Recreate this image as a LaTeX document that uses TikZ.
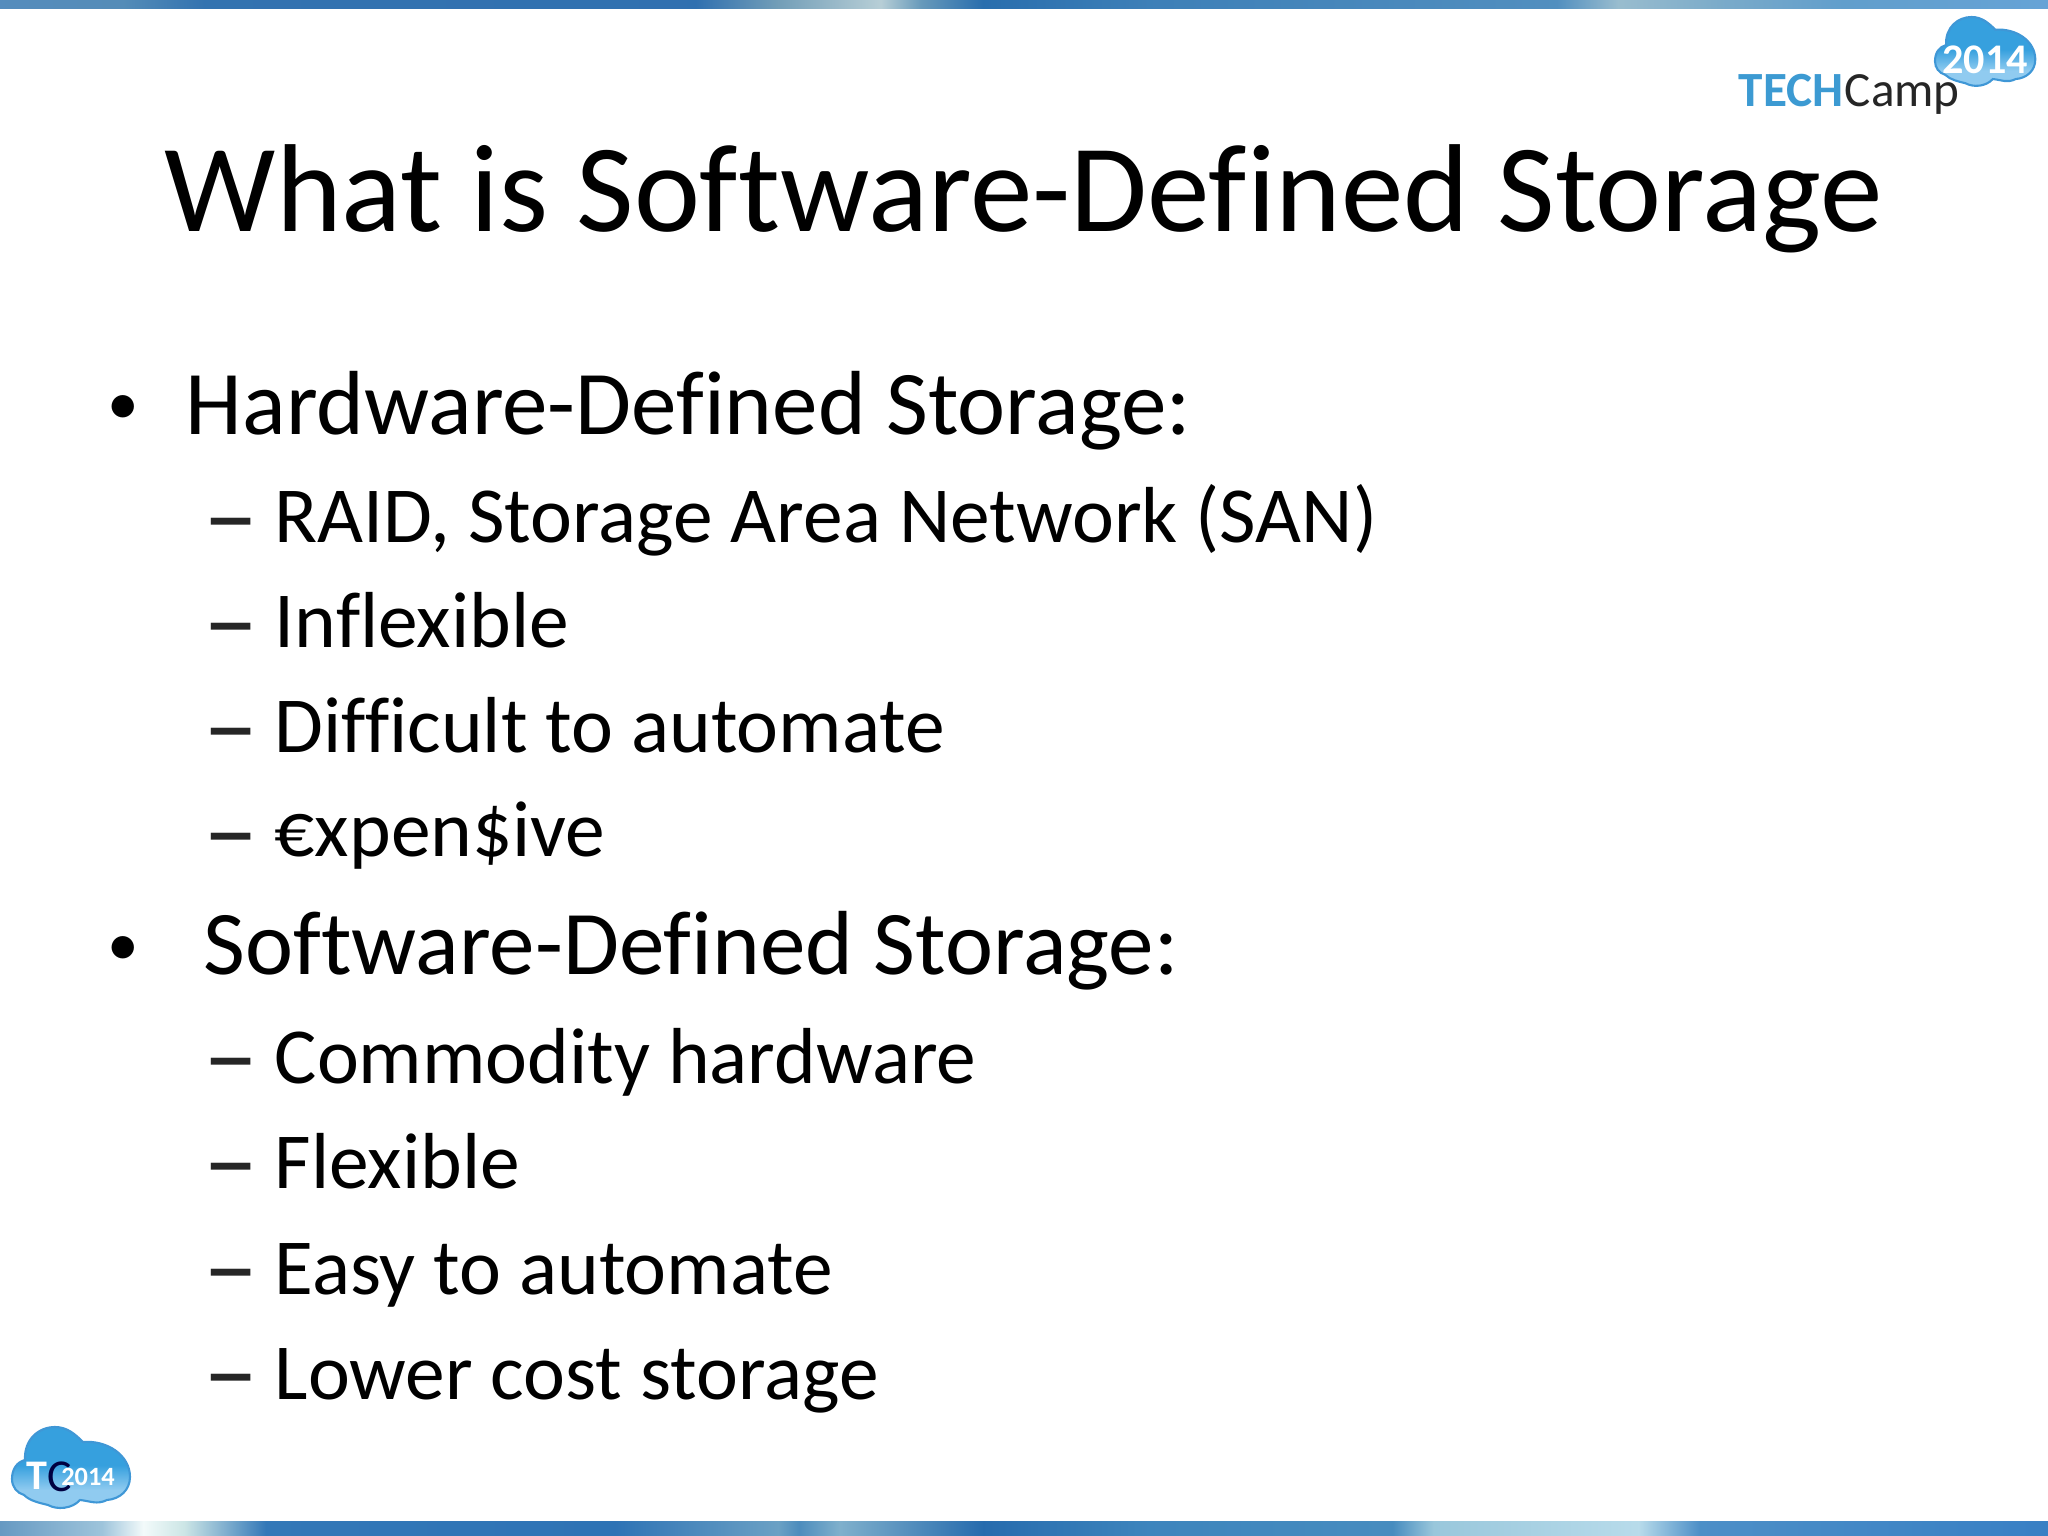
\documentclass[tikz,border=0pt]{standalone}
\usepackage{fontspec}
\setmainfont[RawFeature={-liga;-clig}]{Carlito}
\usepackage{xcolor}
\usetikzlibrary{positioning}

\definecolor{cloudtop}{HTML}{36A0DE}
\definecolor{cloudlow}{HTML}{90CBF0}
\definecolor{cloudline}{HTML}{3F97D6}
\definecolor{techblue}{HTML}{3C9AD2}

\pgfdeclarehorizontalshading{topband}{100bp}{rgb(0bp)=(0.33,0.55,0.74);
	rgb(25bp)=(0.33,0.55,0.74); rgb(28bp)=(0.33,0.55,0.72); rgb(30bp)=(0.20,0.45,0.69);
	rgb(42bp)=(0.19,0.44,0.69); rgb(44bp)=(0.45,0.62,0.72); rgb(46.5bp)=(0.72,0.81,0.84);
	rgb(47.5bp)=(0.40,0.60,0.73); rgb(49bp)=(0.16,0.43,0.68); rgb(53bp)=(0.24,0.50,0.72);
	rgb(63bp)=(0.32,0.56,0.75); rgb(64.5bp)=(0.60,0.74,0.81); rgb(67bp)=(0.48,0.67,0.79);
	rgb(70bp)=(0.38,0.62,0.80); rgb(75bp)=(0.40,0.64,0.84); rgb(100bp)=(0.40,0.64,0.84)}
\pgfdeclarehorizontalshading{lowband}{100bp}{rgb(0bp)=(0.40,0.60,0.76);
	rgb(25bp)=(0.40,0.60,0.76); rgb(27.5bp)=(0.62,0.77,0.86); rgb(28.5bp)=(0.95,0.98,0.98);
	rgb(29.5bp)=(0.80,0.90,0.90); rgb(31.5bp)=(0.20,0.47,0.72); rgb(40bp)=(0.18,0.45,0.71);
	rgb(44bp)=(0.42,0.63,0.77); rgb(44.5bp)=(0.30,0.55,0.74); rgb(45.5bp)=(0.50,0.69,0.80);
	rgb(49bp)=(0.15,0.42,0.68); rgb(53bp)=(0.24,0.52,0.74); rgb(59bp)=(0.28,0.55,0.75);
	rgb(60bp)=(0.60,0.78,0.86); rgb(65bp)=(0.72,0.86,0.92); rgb(66.5bp)=(0.30,0.56,0.78);
	rgb(75bp)=(0.22,0.50,0.77); rgb(100bp)=(0.22,0.50,0.77)}
\pgfdeclareverticalshading{cloudfill}{100bp}{color(0bp)=(cloudlow); color(25bp)=(cloudlow);
	color(37bp)=(cloudlow); color(52bp)=(cloudtop); color(75bp)=(cloudtop); color(100bp)=(cloudtop)}

\tikzset{
	titletext/.style = {anchor = base, font = \fontsize{35.6}{40}\selectfont, text = black, inner sep = 0pt},
	maintext/.style = {anchor = base west, font = \fontsize{25.9}{30}\selectfont, text = black, inner sep = 0pt},
	subtext/.style = {anchor = base west, font = \fontsize{22.6}{26}\selectfont, text = black, inner sep = 0pt},
	dottext/.style = {anchor = base west, font = \fontsize{18}{20}\selectfont, text = black, inner sep = 0pt},
	dashtext/.style = {anchor = base west, font = \fontsize{31.5}{34}\selectfont, text = black!85, inner sep = 0pt},
	logotext/.style = {anchor = base west, inner sep = 0pt},
	yeartext/.style = {anchor = center, font = \bfseries\fontsize{#1}{#1}\selectfont, text = white, inner sep = 0pt},
	techcloud/.pic = {
		\path[draw = cloudline, line width = 0.6pt, shading = cloudfill] (0, -.52)
			.. controls (0, -.42) and (.05, -.35) .. (.13, -.33)
			.. controls (.12, -.12) and (.27, 0) .. (.43, 0)
			.. controls (.55, 0) and (.63, -.07) .. (.71, -.15)
			.. controls (.95, -.13) and (1.18, -.28) .. (1.18, -.5)
			.. controls (1.18, -.63) and (1.08, -.72) .. (.95, -.73)
			.. controls (.85, -.78) and (.78, -.74) .. (.68, -.73)
			.. controls (.6, -.82) and (.45, -.83) .. (.36, -.78)
			.. controls (.28, -.76) and (.18, -.74) .. (.12, -.68)
			.. controls (.05, -.66) and (0, -.6) .. (0, -.52) -- cycle;
	}
}

\begin{document}
\begin{tikzpicture}
	\useasboundingbox (0, 0) rectangle (20.48, -15.36);
	
	% bands
	\path[shading = topband] (0, 0) rectangle (20.48, -.09);
	\path[shading = lowband] (0, -15.21) rectangle (20.48, -15.36);
	
	% logo top right
	\pic[scale = .85] at (19.35, -.17) {techcloud};
	\node[yeartext = 12] (year1) at (19.85, -.6) {2014};
	\node[logotext, text = techblue, font = \bfseries\fontsize{14}{16}\selectfont] (tech) at (17.38, -1.07) {TECH};
	\node[logotext, text = black!85, font = \fontsize{14}{16}\selectfont] (camp) at (tech.base east) {Camp};
	
	% logo bottom left
	\pic at (.12, -14.27) {techcloud};
	\node[yeartext = 12] (letter1) at (.37, -14.76) {T};
	\node[anchor = center, inner sep = 0pt, text = black!75!blue, font = \fontsize{13}{13}\selectfont] (letter2) at (.6, -14.77) {C};
	\node[yeartext = 7.5] (year2) at (.88, -14.77) {2014};
	
	% title
	\node[titletext] (title) at (10.24, -2.32) {What is Software-Defined Storage};
	
	% first list
	\node[dottext] (dot1) at (1.07, -4.25) {•};
	\node[maintext] (hard) at (1.85, -4.35) {Hardware-Defined Storage:};
	\node[dashtext] (dash1) at (2.03, -5.52) {–};
	\node[subtext] (raid) at (2.74, -5.43) {RAID, Storage Area Network (SAN)};
	\node[dashtext] (dash2) at (2.03, -6.57) {–};
	\node[subtext] (inflex) at (2.74, -6.48) {Inflexible};
	\node[dashtext] (dash3) at (2.03, -7.62) {–};
	\node[subtext] (diff) at (2.74, -7.53) {Difficult to automate};
	\node[dashtext] (dash4) at (2.03, -8.67) {–};
	\node[subtext] (expen) at (2.74, -8.57) {€xpen\$ive};
	
	% second list
	\node[dottext] (dot2) at (1.07, -9.65) {•};
	\node[maintext] (soft) at (2.03, -9.75) {Software-Defined Storage:};
	\node[dashtext] (dash5) at (2.03, -10.93) {–};
	\node[subtext] (comm) at (2.74, -10.84) {Commodity hardware};
	\node[dashtext] (dash6) at (2.03, -11.97) {–};
	\node[subtext] (flex) at (2.74, -11.88) {Flexible};
	\node[dashtext] (dash7) at (2.03, -13.03) {–};
	\node[subtext] (easy) at (2.74, -12.94) {Easy to automate};
	\node[dashtext] (dash8) at (2.03, -14.08) {–};
	\node[subtext] (lower) at (2.74, -13.99) {Lower cost storage};
\end{tikzpicture}
\end{document}
